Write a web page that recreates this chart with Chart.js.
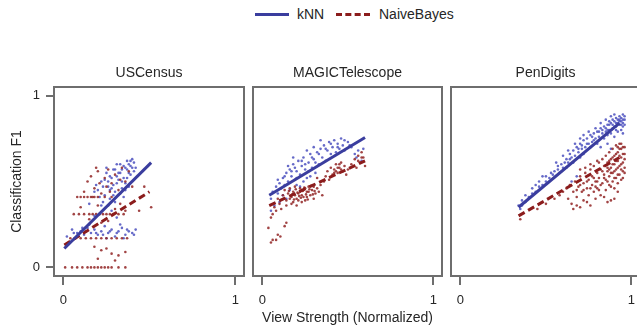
<!DOCTYPE html>
<html>
<head>
<meta charset="utf-8">
<script src="https://cdn.jsdelivr.net/npm/chart.js@4.4.1/dist/chart.umd.min.js"></script>
<style>
  body { margin: 0; width: 637px; height: 330px; overflow: hidden; background: #fff;
         font-family: "Liberation Sans", Arial, sans-serif; color: #262626; }
  canvas { position: absolute; top: 60px; }
  .leg { position: absolute; top: 6px; font-size: 14px; line-height: 17px; }
  .swatch { position: absolute; top: 13px; width: 34px; height: 0; }
</style>
</head>
<body>
<div class="swatch" style="left:255px; border-top:3px solid #3a3d9e;"></div>
<div class="leg" style="left:297px;">kNN</div>
<div class="swatch" style="left:336px; border-top:3px dashed #8b1c1c;"></div>
<div class="leg" style="left:379px;">NaiveBayes</div>

<canvas id="c1" width="248" height="270" style="left:0px"></canvas>
<canvas id="c2" width="197" height="270" style="left:249px"></canvas>
<canvas id="c3" width="197" height="270" style="left:447px"></canvas>

<script>
// ===============================
// DATA
// ===============================

const panelTitles = ["USCensus", "MAGICTelescope", "PenDigits"];
const tickValues = [0, 1];

// regression lines [start, end]
const usKnnFit = [[0.005, 0.11], [0.51, 0.61]];
const usNbFit = [[0.005, 0.13], [0.50, 0.44]];
const magicKnnFit = [[0.04, 0.42], [0.60, 0.756]];
const magicNbFit = [[0.04, 0.36], [0.60, 0.62]];
const penKnnFit = [[0.34, 0.35], [0.93, 0.84]];
const penNbFit = [[0.34, 0.30], [0.93, 0.64]];

const usKnnPts = [
  [0.20,0.45],[0.22,0.50],[0.24,0.42],[0.25,0.55],[0.26,0.47],[0.27,0.40],[0.28,0.52],[0.29,0.57],
  [0.30,0.44],[0.31,0.49],[0.32,0.55],[0.33,0.60],[0.34,0.46],[0.35,0.52],[0.36,0.58],[0.37,0.62],
  [0.38,0.55],[0.39,0.59],[0.40,0.63],[0.41,0.56],[0.23,0.38],[0.21,0.41],[0.19,0.48],[0.26,0.36],
  [0.30,0.38],[0.33,0.43],[0.35,0.41],[0.28,0.46],[0.24,0.51],[0.36,0.49],[0.38,0.47],[0.18,0.44],
  [0.22,0.36],[0.27,0.53],[0.32,0.51],[0.34,0.57],[0.37,0.52],[0.39,0.54],[0.42,0.58],[0.29,0.42],
  [0.15,0.37],[0.31,0.60],[0.25,0.58],
  [0.26,0.50],[0.29,0.48],[0.31,0.53],[0.33,0.55],[0.35,0.59],[0.37,0.57],[0.39,0.62],[0.40,0.58],
  [0.30,0.57],[0.27,0.45],[0.34,0.50],[0.36,0.45],[0.23,0.47],[0.38,0.60],[0.41,0.61],
  [0.02,0.18],[0.05,0.22],[0.08,0.20],[0.10,0.21],[0.12,0.19],[0.14,0.23],[0.16,0.20],[0.18,0.22],
  [0.20,0.19],[0.22,0.21],[0.24,0.24],[0.26,0.20],[0.28,0.22],[0.30,0.18],[0.32,0.21],[0.34,0.23],
  [0.36,0.19],[0.38,0.21],[0.40,0.20],[0.42,0.22],[0.15,0.25],[0.25,0.17],[0.33,0.25],[0.11,0.23],
  [0.35,0.17],[0.06,0.20],[0.13,0.21],[0.19,0.20],[0.23,0.19],[0.27,0.21],[0.31,0.20],[0.37,0.22],
  [0.41,0.19],[0.18,0.30],[0.28,0.33],[0.31,0.29]
];
const usNbPts = [
  [0.14,0.50],[0.16,0.53],[0.18,0.46],[0.20,0.56],[0.22,0.43],[0.24,0.52],[0.26,0.57],[0.28,0.49],
  [0.30,0.54],[0.32,0.45],[0.34,0.58],[0.36,0.50],[0.38,0.56],[0.12,0.44],[0.17,0.41],[0.21,0.49],
  [0.27,0.44],[0.33,0.51],[0.40,0.47],[0.25,0.47],[0.19,0.58],
  [0.08,0.41],[0.10,0.41],[0.12,0.41],[0.14,0.41],[0.16,0.41],[0.18,0.41],[0.20,0.41],[0.24,0.41],[0.28,0.41],
  [0.06,0.31],[0.09,0.31],[0.12,0.31],[0.15,0.31],[0.17,0.31],[0.19,0.31],[0.21,0.31],[0.23,0.31],
  [0.25,0.31],[0.27,0.31],[0.29,0.31],[0.32,0.31],[0.35,0.31],
  [0.10,0.35],[0.20,0.36],[0.30,0.34],[0.26,0.27],[0.22,0.26],[0.33,0.37],[0.15,0.28],[0.36,0.33],
  [0.04,0.17],[0.07,0.17],[0.10,0.17],[0.13,0.17],[0.16,0.17],[0.19,0.17],[0.22,0.17],[0.25,0.17],
  [0.28,0.17],[0.31,0.17],[0.34,0.17],[0.37,0.17],
  [0.18,0.12],[0.22,0.10],[0.28,0.08],[0.32,0.07],[0.20,0.05],[0.30,0.04],[0.25,0.11],[0.36,0.09],
  [0.01,0.00],[0.05,0.00],[0.08,0.00],[0.11,0.00],[0.14,0.00],[0.16,0.00],[0.18,0.00],[0.20,0.00],
  [0.22,0.00],[0.24,0.00],[0.26,0.00],[0.28,0.00],[0.32,0.00],[0.36,0.00],
  [0.51,0.35],[0.47,0.47],[0.44,0.33]
];

const magicKnnPts = [
  [0.05,0.40],[0.06,0.44],[0.08,0.47],[0.09,0.43],[0.10,0.49],[0.11,0.46],[0.12,0.52],[0.13,0.48],
  [0.14,0.55],[0.15,0.50],[0.16,0.57],[0.17,0.53],[0.18,0.60],[0.19,0.51],[0.20,0.56],[0.21,0.62],
  [0.22,0.54],[0.23,0.59],[0.24,0.64],[0.25,0.57],[0.26,0.52],[0.27,0.61],[0.28,0.66],[0.29,0.58],
  [0.30,0.63],[0.31,0.55],[0.32,0.67],[0.33,0.60],[0.34,0.69],[0.35,0.64],[0.36,0.71],[0.37,0.62],
  [0.38,0.68],[0.39,0.73],[0.40,0.66],[0.41,0.70],[0.42,0.74],[0.43,0.67],[0.44,0.72],[0.45,0.69],
  [0.46,0.75],[0.47,0.71],[0.48,0.68],[0.50,0.73],[0.52,0.70],[0.54,0.66],[0.56,0.68],[0.58,0.62],
  [0.59,0.69],[0.12,0.42],[0.16,0.45],[0.20,0.48],[0.24,0.50],[0.10,0.38],[0.07,0.36],[0.05,0.33],
  [0.14,0.40],[0.22,0.47],[0.28,0.53],[0.18,0.64],[0.26,0.68],[0.30,0.70],[0.34,0.74],[0.15,0.59],
  [0.09,0.51],[0.13,0.53],[0.17,0.56],[0.19,0.58],[0.23,0.62],[0.25,0.60],[0.29,0.64],[0.33,0.66],
  [0.37,0.69],[0.40,0.72],[0.44,0.70],[0.48,0.74],[0.51,0.71],[0.55,0.64],[0.20,0.52],[0.27,0.56],
  [0.31,0.61]
];
const magicNbPts = [
  [0.12,0.42],[0.13,0.45],[0.14,0.39],[0.15,0.43],[0.16,0.46],[0.17,0.41],[0.18,0.44],[0.19,0.47],
  [0.20,0.40],[0.21,0.43],[0.22,0.46],[0.23,0.42],[0.24,0.45],[0.25,0.39],[0.26,0.44],[0.27,0.47],
  [0.28,0.42],[0.29,0.45],[0.30,0.40],[0.31,0.43],[0.32,0.46],[0.14,0.36],[0.17,0.37],[0.20,0.36],
  [0.23,0.38],[0.26,0.41],[0.19,0.42],[0.22,0.44],[0.25,0.46],[0.16,0.40],[0.18,0.38],[0.21,0.39],
  [0.24,0.41],[0.27,0.44],[0.30,0.47],[0.33,0.44],[0.35,0.42],[0.10,0.37],[0.09,0.40],[0.11,0.34],
  [0.08,0.33],[0.06,0.31],[0.05,0.29],[0.07,0.35],
  [0.155,0.445],[0.175,0.425],[0.195,0.455],[0.215,0.415],[0.235,0.445],[0.255,0.425],[0.275,0.455],
  [0.295,0.425],[0.185,0.395],[0.205,0.435],[0.225,0.405],[0.245,0.465],[0.265,0.395],[0.285,0.475],
  [0.305,0.445],
  [0.36,0.50],[0.37,0.53],[0.38,0.56],[0.39,0.51],[0.40,0.58],[0.41,0.54],[0.42,0.57],[0.43,0.60],
  [0.44,0.55],[0.45,0.58],[0.46,0.61],[0.47,0.56],[0.48,0.59],[0.49,0.54],[0.50,0.57],[0.34,0.48],
  [0.32,0.52],[0.44,0.58],[0.46,0.57],[0.43,0.56],[0.45,0.60],[0.42,0.55],
  [0.52,0.60],[0.54,0.63],[0.55,0.58],[0.56,0.65],[0.57,0.61],[0.58,0.67],[0.59,0.64],[0.60,0.59],
  [0.56,0.62],[0.58,0.64],
  [0.035,0.23],[0.13,0.24],[0.14,0.26],[0.105,0.18],[0.08,0.16],[0.05,0.145],[0.06,0.16],[0.09,0.19]
];

const penKnnPts = [
  [0.34,0.36],[0.35,0.34],[0.36,0.39],[0.38,0.38],[0.40,0.41],[0.42,0.43],[0.44,0.44],[0.46,0.47],
  [0.48,0.48],[0.50,0.50],[0.52,0.52],[0.54,0.54],[0.55,0.56],[0.57,0.57],[0.59,0.60],[0.60,0.58],
  [0.62,0.63],[0.63,0.61],[0.64,0.66],[0.65,0.64],[0.66,0.68],[0.67,0.65],[0.68,0.70],[0.69,0.67],
  [0.70,0.72],[0.71,0.69],[0.72,0.74],[0.73,0.70],[0.74,0.75],[0.75,0.72],[0.76,0.77],[0.77,0.73],
  [0.78,0.78],[0.79,0.75],[0.80,0.79],[0.81,0.76],[0.82,0.81],[0.83,0.78],[0.84,0.82],[0.85,0.79],
  [0.86,0.83],[0.87,0.80],[0.88,0.84],[0.89,0.81],[0.90,0.85],[0.91,0.82],[0.92,0.86],[0.93,0.83],
  [0.94,0.87],[0.95,0.84],[0.93,0.88],[0.91,0.87],[0.89,0.86],[0.94,0.80],[0.95,0.78],[0.92,0.79],
  [0.88,0.78],[0.86,0.77],[0.90,0.76],[0.84,0.75],[0.80,0.72],[0.76,0.70],[0.72,0.66],[0.70,0.64],
  [0.66,0.61],[0.62,0.58],[0.58,0.55],[0.67,0.72],[0.72,0.77],[0.75,0.79],[0.79,0.81],[0.82,0.84],
  [0.85,0.86],[0.88,0.88],[0.90,0.89],[0.94,0.85],[0.95,0.82],[0.96,0.86],[0.96,0.83],[0.63,0.68],
  [0.60,0.65],[0.56,0.61],[0.48,0.53],[0.44,0.48],[0.70,0.75],[0.65,0.50],[0.68,0.53],[0.82,0.70],
  [0.86,0.72],[0.88,0.69],
  [0.85,0.81],[0.87,0.83],[0.89,0.83],[0.91,0.84],[0.93,0.85],[0.95,0.86],[0.92,0.84],[0.90,0.82],
  [0.88,0.80],[0.86,0.80],[0.94,0.83],[0.96,0.88],[0.95,0.89],[0.93,0.86],[0.91,0.80],[0.87,0.85],
  [0.83,0.80],[0.81,0.79],[0.78,0.74],[0.77,0.76],[0.74,0.72],[0.71,0.71],[0.69,0.69],[0.64,0.63],
  [0.61,0.61],[0.53,0.55],[0.57,0.59],[0.50,0.53],[0.46,0.50],[0.42,0.46],[0.38,0.42],[0.36,0.36]
];
const penNbPts = [
  [0.35,0.28],[0.45,0.34],[0.50,0.37],[0.55,0.40],[0.58,0.42],[0.60,0.44],[0.62,0.46],[0.63,0.40],
  [0.64,0.48],[0.65,0.37],[0.66,0.44],[0.66,0.34],[0.67,0.50],[0.68,0.41],[0.68,0.36],[0.69,0.47],
  [0.70,0.53],[0.71,0.44],[0.72,0.49],[0.72,0.39],[0.73,0.55],[0.74,0.46],[0.75,0.51],[0.75,0.42],
  [0.76,0.57],[0.77,0.48],[0.77,0.53],[0.78,0.44],[0.78,0.59],[0.79,0.50],[0.80,0.55],[0.80,0.46],
  [0.81,0.61],[0.81,0.52],[0.82,0.57],[0.82,0.42],[0.83,0.49],[0.83,0.63],[0.84,0.54],[0.84,0.59],
  [0.85,0.45],[0.85,0.51],[0.85,0.65],[0.86,0.56],[0.86,0.61],[0.87,0.48],[0.87,0.53],[0.87,0.67],
  [0.88,0.58],[0.88,0.63],[0.88,0.39],[0.89,0.50],[0.89,0.55],[0.89,0.69],[0.90,0.60],[0.90,0.65],
  [0.90,0.46],[0.91,0.52],[0.91,0.57],[0.91,0.71],[0.92,0.62],[0.92,0.67],[0.92,0.49],[0.93,0.54],
  [0.93,0.59],[0.93,0.72],[0.94,0.64],[0.94,0.69],[0.94,0.51],[0.95,0.56],[0.95,0.61],[0.95,0.66],
  [0.96,0.58],[0.96,0.63],[0.96,0.70],[0.74,0.38],[0.70,0.35],[0.76,0.36],[0.79,0.40],[0.84,0.41],
  [0.86,0.38],[0.90,0.40],[0.92,0.44],[0.80,0.62],[0.76,0.60],[0.73,0.58],[0.70,0.57],
  [0.86,0.58],[0.87,0.62],[0.88,0.55],[0.89,0.60],[0.90,0.56],[0.91,0.62],[0.92,0.58],[0.93,0.65],
  [0.94,0.60],[0.95,0.70],[0.96,0.66],[0.93,0.69],[0.91,0.66],[0.89,0.64],[0.87,0.57],[0.86,0.50],
  [0.88,0.47],[0.90,0.52],[0.92,0.54],[0.94,0.57],[0.95,0.52],[0.96,0.55],[0.94,0.72],[0.92,0.70],
  [0.84,0.52],[0.82,0.48],[0.80,0.50],[0.78,0.52],[0.76,0.46],[0.74,0.50],[0.72,0.45],[0.70,0.48],
  [0.68,0.45],[0.81,0.45],[0.79,0.47],[0.83,0.56]
];

// ===============================
// STYLE
// ===============================

const knnColor = "#3a3d9e";
const nbColor = "#8b1c1c";
const knnDot = "rgba(75, 80, 190, 0.85)";
const nbDot = "rgba(145, 35, 35, 0.85)";
const frameColor = "#6e6e6e";
const textColor = "#262626";
const fontFamily = '"Liberation Sans", Arial, sans-serif';

Chart.defaults.font.family = fontFamily;
Chart.defaults.font.size = 13;
Chart.defaults.color = textColor;

const toXY = arr => arr.map(p => ({ x: p[0], y: p[1] }));

// frame round the plot area + panel title centred over it
const framePlugin = {
  id: "frame",
  afterDraw(chart) {
    const { ctx, chartArea: a } = chart;
    ctx.save();
    ctx.strokeStyle = frameColor;
    ctx.lineWidth = 2;
    ctx.strokeRect(a.left, a.top, a.right - a.left, a.bottom - a.top);
    const title = chart.options.plugins.frame.title;
    ctx.fillStyle = textColor;
    ctx.font = "14px " + fontFamily;
    ctx.textAlign = "center";
    ctx.textBaseline = "middle";
    ctx.fillText(title, (a.left + a.right) / 2, a.top - 14);
    ctx.restore();
  }
};

function makePanel(id, title, knnPts, nbPts, knnFit, nbFit, opts) {
  const showY = opts.showY;
  new Chart(document.getElementById(id), {
    type: "scatter",
    data: {
      datasets: [
        { data: toXY(knnFit), showLine: true, borderColor: knnColor, borderWidth: 3,
          pointRadius: 0, borderCapStyle: "butt" },
        { data: toXY(nbFit), showLine: true, borderColor: nbColor, borderWidth: 3,
          borderDash: [7, 4], pointRadius: 0, borderCapStyle: "butt" },
        { data: toXY(nbPts), pointRadius: 1.3, pointBorderWidth: 0, backgroundColor: nbDot },
        { data: toXY(knnPts), pointRadius: 1.3, pointBorderWidth: 0, backgroundColor: knnDot }
      ]
    },
    options: {
      responsive: false,
      animation: false,
      layout: { padding: { left: showY ? 0 : 4, right: 4, top: 27, bottom: 0 } },
      plugins: {
        legend: { display: false },
        tooltip: { enabled: false },
        title: { display: false },
        frame: { title: title }
      },
      scales: {
        x: {
          type: "linear", min: -0.055, max: 1.05,
          afterBuildTicks: s => { s.ticks = tickValues.map(v => ({ value: v })); },
          afterFit: s => { s.height = 54; },
          ticks: { padding: 8, color: textColor, font: { size: 13 } },
          grid: { drawOnChartArea: false, drawTicks: true, tickLength: 9, color: frameColor, lineWidth: 2 },
          border: { display: false },
          title: { display: !!opts.xTitle, text: opts.xTitle || "", color: textColor,
                   font: { size: 14 }, padding: { top: 0, bottom: 3 } }
        },
        y: {
          type: "linear", min: -0.05, max: 1.05, display: showY,
          afterBuildTicks: s => { s.ticks = tickValues.map(v => ({ value: v })); },
          afterFit: s => { s.width = showY ? 54 : 0; },
          ticks: { padding: 6, color: textColor, font: { size: 13 } },
          grid: { drawOnChartArea: false, drawTicks: true, tickLength: 8, color: frameColor, lineWidth: 2 },
          border: { display: false },
          title: { display: showY, text: "Classification F1", color: textColor,
                   font: { size: 14 }, padding: { top: 9, bottom: 0 } }
        }
      }
    },
    plugins: [framePlugin]
  });
}

makePanel("c1", panelTitles[0], usKnnPts, usNbPts, usKnnFit, usNbFit, { showY: true });
makePanel("c2", panelTitles[1], magicKnnPts, magicNbPts, magicKnnFit, magicNbFit,
          { showY: false, xTitle: "View Strength (Normalized)" });
makePanel("c3", panelTitles[2], penKnnPts, penNbPts, penKnnFit, penNbFit, { showY: false });
</script>
</body>
</html>
